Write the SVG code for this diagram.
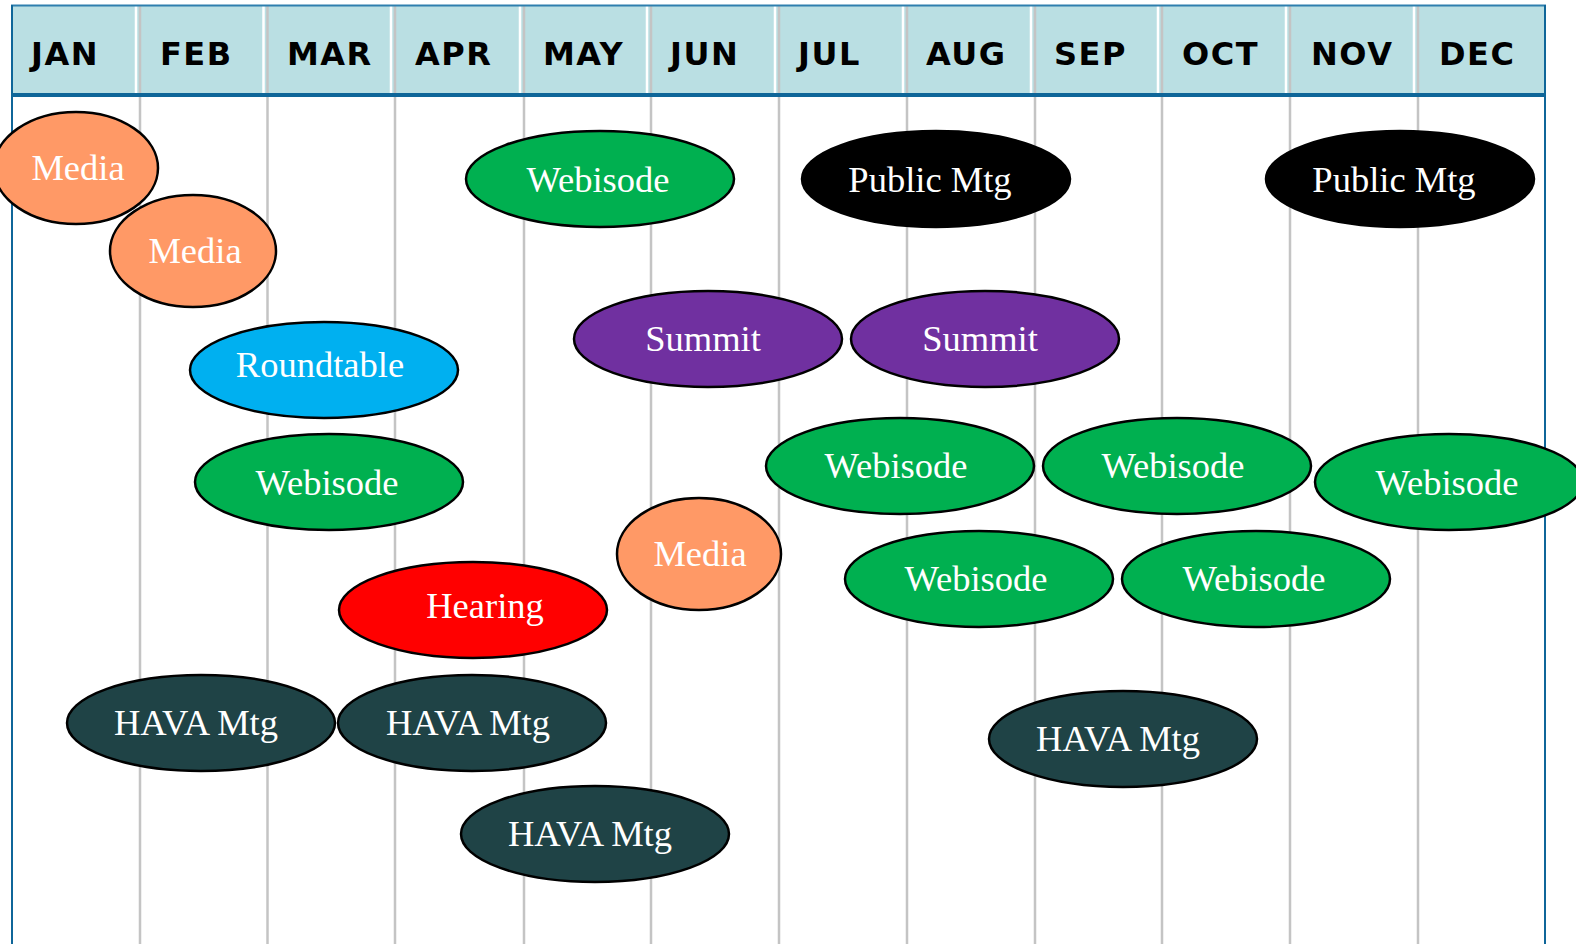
<svg xmlns="http://www.w3.org/2000/svg" width="1576" height="944" viewBox="0 0 1576 944">
<style>
.hdr{font-family:"DejaVu Sans",Verdana,sans-serif;font-weight:bold;font-size:32px;fill:#000;letter-spacing:1.5px}
.grid{stroke:#C4C4C4;stroke-width:2.5}
.sep{stroke:#FFFFFF;stroke-width:2.5}
.ev{stroke:#000;stroke-width:2.5}
.lbl{font-family:"Liberation Serif","Times New Roman",serif;font-size:36.5px;fill:#FFFFFF;text-anchor:middle}
.media{fill:#FF9966}
.web{fill:#00B050}
.pub{fill:#000000}
.sum{fill:#7030A0}
.rt{fill:#00B0F0}
.hear{fill:#FF0000}
.hava{fill:#1F4346}
</style>
<rect x="0" y="0" width="1576" height="944" fill="#FFFFFF"/>
<g id="frame">
<rect x="12" y="5" width="1533" height="90" fill="#BADFE3"/>
<g id="separators">
<line class="sep" x1="136" y1="6" x2="136" y2="93"/>
<line class="sep" x1="263.5" y1="6" x2="263.5" y2="93"/>
<line class="sep" x1="391" y1="6" x2="391" y2="93"/>
<line class="sep" x1="520" y1="6" x2="520" y2="93"/>
<line class="sep" x1="647" y1="6" x2="647" y2="93"/>
<line class="sep" x1="775" y1="6" x2="775" y2="93"/>
<line class="sep" x1="903" y1="6" x2="903" y2="93"/>
<line class="sep" x1="1031" y1="6" x2="1031" y2="93"/>
<line class="sep" x1="1158" y1="6" x2="1158" y2="93"/>
<line class="sep" x1="1286" y1="6" x2="1286" y2="93"/>
<line class="sep" x1="1414" y1="6" x2="1414" y2="93"/>
</g>
<g id="gridlines">
<line class="grid" x1="140" y1="6" x2="140" y2="944"/>
<line class="grid" x1="267.5" y1="6" x2="267.5" y2="944"/>
<line class="grid" x1="395" y1="6" x2="395" y2="944"/>
<line class="grid" x1="524" y1="6" x2="524" y2="944"/>
<line class="grid" x1="651" y1="6" x2="651" y2="944"/>
<line class="grid" x1="779" y1="6" x2="779" y2="944"/>
<line class="grid" x1="907" y1="6" x2="907" y2="944"/>
<line class="grid" x1="1035" y1="6" x2="1035" y2="944"/>
<line class="grid" x1="1162" y1="6" x2="1162" y2="944"/>
<line class="grid" x1="1290" y1="6" x2="1290" y2="944"/>
<line class="grid" x1="1418" y1="6" x2="1418" y2="944"/>
</g>
<line x1="11" y1="5.5" x2="1546" y2="5.5" stroke="#2E7FAE" stroke-width="2"/>
<line x1="11" y1="95" x2="1546" y2="95" stroke="#0F6699" stroke-width="4"/>
<line x1="12" y1="5" x2="12" y2="944" stroke="#0F6699" stroke-width="2"/>
<line x1="1545" y1="5" x2="1545" y2="944" stroke="#0F6699" stroke-width="2"/>
</g>
<g id="months">
<text class="hdr" x="31" y="65">JAN</text>
<text class="hdr" x="160" y="65">FEB</text>
<text class="hdr" x="287" y="65">MAR</text>
<text class="hdr" x="415" y="65">APR</text>
<text class="hdr" x="543" y="65">MAY</text>
<text class="hdr" x="670" y="65">JUN</text>
<text class="hdr" x="798" y="65">JUL</text>
<text class="hdr" x="926" y="65">AUG</text>
<text class="hdr" x="1054" y="65">SEP</text>
<text class="hdr" x="1182" y="65">OCT</text>
<text class="hdr" x="1311" y="65">NOV</text>
<text class="hdr" x="1439" y="65">DEC</text>
</g>
<g id="media1"><ellipse class="ev media" cx="76" cy="168" rx="82" ry="56"/><text class="lbl" x="78" y="180">Media</text></g>
<g id="media2"><ellipse class="ev media" cx="193" cy="251" rx="83" ry="56"/><text class="lbl" x="195" y="263">Media</text></g>
<g id="webisode1"><ellipse class="ev web" cx="600" cy="179" rx="134" ry="48"/><text class="lbl" x="598" y="192">Webisode</text></g>
<g id="publicmtg1"><ellipse class="ev pub" cx="936" cy="179" rx="134" ry="48"/><text class="lbl" x="930" y="192">Public Mtg</text></g>
<g id="publicmtg2"><ellipse class="ev pub" cx="1400" cy="179" rx="134" ry="48"/><text class="lbl" x="1394" y="192">Public Mtg</text></g>
<g id="summit1"><ellipse class="ev sum" cx="708" cy="339" rx="134" ry="48"/><text class="lbl" x="703" y="351">Summit</text></g>
<g id="summit2"><ellipse class="ev sum" cx="985" cy="339" rx="134" ry="48"/><text class="lbl" x="980" y="351">Summit</text></g>
<g id="roundtable"><ellipse class="ev rt" cx="324" cy="370" rx="134" ry="48"/><text class="lbl" x="320" y="377">Roundtable</text></g>
<g id="webisode2"><ellipse class="ev web" cx="329" cy="482" rx="134" ry="48"/><text class="lbl" x="327" y="495">Webisode</text></g>
<g id="webisode3"><ellipse class="ev web" cx="900" cy="466" rx="134" ry="48"/><text class="lbl" x="896" y="478">Webisode</text></g>
<g id="webisode4"><ellipse class="ev web" cx="1177" cy="466" rx="134" ry="48"/><text class="lbl" x="1173" y="478">Webisode</text></g>
<g id="webisode5"><ellipse class="ev web" cx="1449" cy="482" rx="134" ry="48"/><text class="lbl" x="1447" y="495">Webisode</text></g>
<g id="media3"><ellipse class="ev media" cx="699" cy="554" rx="82" ry="56"/><text class="lbl" x="700" y="566">Media</text></g>
<g id="webisode6"><ellipse class="ev web" cx="979" cy="579" rx="134" ry="48"/><text class="lbl" x="976" y="591">Webisode</text></g>
<g id="webisode7"><ellipse class="ev web" cx="1256" cy="579" rx="134" ry="48"/><text class="lbl" x="1254" y="591">Webisode</text></g>
<g id="hearing"><ellipse class="ev hear" cx="473" cy="610" rx="134" ry="48"/><text class="lbl" x="485" y="618">Hearing</text></g>
<g id="hava1"><ellipse class="ev hava" cx="201" cy="723" rx="134" ry="48"/><text class="lbl" x="196" y="735">HAVA Mtg</text></g>
<g id="hava2"><ellipse class="ev hava" cx="472" cy="723" rx="134" ry="48"/><text class="lbl" x="468" y="735">HAVA Mtg</text></g>
<g id="hava3"><ellipse class="ev hava" cx="1123" cy="739" rx="134" ry="48"/><text class="lbl" x="1118" y="751">HAVA Mtg</text></g>
<g id="hava4"><ellipse class="ev hava" cx="595" cy="834" rx="134" ry="48"/><text class="lbl" x="590" y="846">HAVA Mtg</text></g>
<g id="connectors"></g>
</svg>
